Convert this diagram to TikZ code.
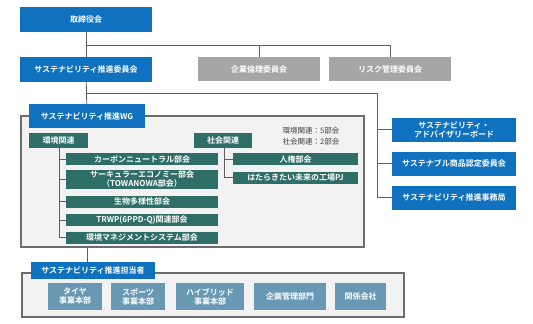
\documentclass[tikz,border=0pt]{standalone}
\usepackage{fontspec}
\setmainfont{Noto Sans CJK JP}[BoldFont={Noto Sans CJK JP Bold}]
\usepackage{xcolor}
\usepackage{tikz}
\usetikzlibrary{positioning,calc}
\definecolor{corpblue}{RGB}{16,114,190}
\definecolor{corpgray}{RGB}{166,166,166}
\definecolor{corpteal}{RGB}{46,110,102}
\definecolor{corpsteel}{RGB}{104,152,180}
\definecolor{linegray}{RGB}{95,95,95}

\begin{document}
\begin{tikzpicture}[x=1pt,y=-1pt,font=\fontsize{8}{9}\selectfont\bfseries,
  box/.style={fill=#1,text=white,inner sep=0pt,align=center},
  bluebox/.style={box=corpblue,minimum width=132,minimum height=25},
  sidebox/.style={box=corpblue,minimum width=124,minimum height=24},
  graybox/.style={box=corpgray,minimum width=122,minimum height=24},
  tealbox/.style={box=corpteal,minimum height=12},
  steelbox/.style={box=corpsteel,minimum height=27},
  frame/.style={draw=gray!85!black,line width=1.1pt,fill=gray!10,inner sep=0pt},
  conn/.style={draw=linegray,line width=0.8pt}
]
  \useasboundingbox (0,0) rectangle (533,324);
  % top level
  \node[bluebox] (board) at (86,19.5) {取締役会};
  \node[bluebox] (promo) at (86,69.5) {サステナビリティ推進委員会};
  \node[graybox] (ethics) at (259,69) {企業倫理委員会};
  \node[graybox] (risk) at (390,69) {リスク管理委員会};
  \coordinate (j1) at (86,45);
  \draw[conn] (board) -- (promo);
  \draw[conn] (j1) -| (ethics.north);
  \draw[conn] (j1) -| (risk.north);

  % working group frame
  \node[frame,minimum width=343,minimum height=131] (wgframe) at (192.5,181.5) {};
  \node[box=corpblue,minimum width=116,minimum height=24] (wg) at (87,116) {サステナビリティ推進WG};
  \draw[conn] (promo) -- (wg);

  % right side
  \node[sidebox] (advisory) at (454,129.5) {サステナビリティ・\\アドバイザリーボード};
  \node[sidebox] (product) at (454,163.5) {サステナブル商品認定委員会};
  \node[sidebox] (office) at (454,197.5) {サステナビリティ推進事務局};
  \coordinate (j2) at (86,93);
  \coordinate (rbus) at (377,93);
  \draw[conn] (j2) -- (rbus) |- (office.west);
  \draw[conn] (rbus |- advisory.west) -- (advisory.west);
  \draw[conn] (rbus |- product.west) -- (product.west);

  % environment
  \node[tealbox,minimum width=59,minimum height=15] (env) at (58.5,140.5) {環境関連};
  \node[tealbox,minimum width=152] (carbon) at (142,159) {カーボンニュートラル部会};
  \node[tealbox,minimum width=152,minimum height=19] (circular) at (142,179.5) {サーキュラーエコノミー部会\\（TOWANOWA部会）};
  \node[tealbox,minimum width=152] (biodiv) at (142,201.5) {生物多様性部会};
  \node[tealbox,minimum width=152] (trwp) at (142,220) {TRWP(6PPD-Q)関連部会};
  \node[tealbox,minimum width=152] (ems) at (142,237.5) {環境マネジメントシステム部会};
  \coordinate (etree) at (59,148);
  \draw[conn] (etree) |- (ems.west);
  \foreach \n in {carbon,circular,biodiv,trwp}
    \draw[conn] (etree |- \n.west) -- (\n.west);

  % society
  \node[tealbox,minimum width=58,minimum height=15] (soc) at (223,140.5) {社会関連};
  \node[tealbox,minimum width=125] (rights) at (295.5,159) {人権部会};
  \node[tealbox,minimum width=125] (factory) at (295.5,177.5) {はたらきたい未来の工場PJ};
  \coordinate (stree) at (224,148);
  \draw[conn] (stree) |- (factory.west);
  \draw[conn] (stree |- rights.west) -- (rights.west);

  \node[font=\fontsize{7.5}{11.5}\selectfont,text=black!75,align=left] (count) at (311,136) {環境関連：5部会\\社会関連：2部会};

  % staff
  \node[frame,minimum width=382,minimum height=44] (staffframe) at (213,295) {};
  \node[box=corpblue,minimum width=124,minimum height=17] (staff) at (93,270.5) {サステナビリティ推進担当者};
  \draw[conn] (wgframe.south -| wg) -- (staff.north -| wg);
  \node[steelbox,minimum width=54] (tire) at (75,296.5) {タイヤ\\事業本部};
  \node[steelbox,minimum width=54] (sports) at (138,296.5) {スポーツ\\事業本部};
  \node[steelbox,minimum width=68] (hybrid) at (210,296.5) {ハイブリッド\\事業本部};
  \node[steelbox,minimum width=72] (planning) at (290,296.5) {企画管理部門};
  \node[steelbox,minimum width=51] (affiliates) at (360.5,296.5) {関係会社};
\end{tikzpicture}
\end{document}
